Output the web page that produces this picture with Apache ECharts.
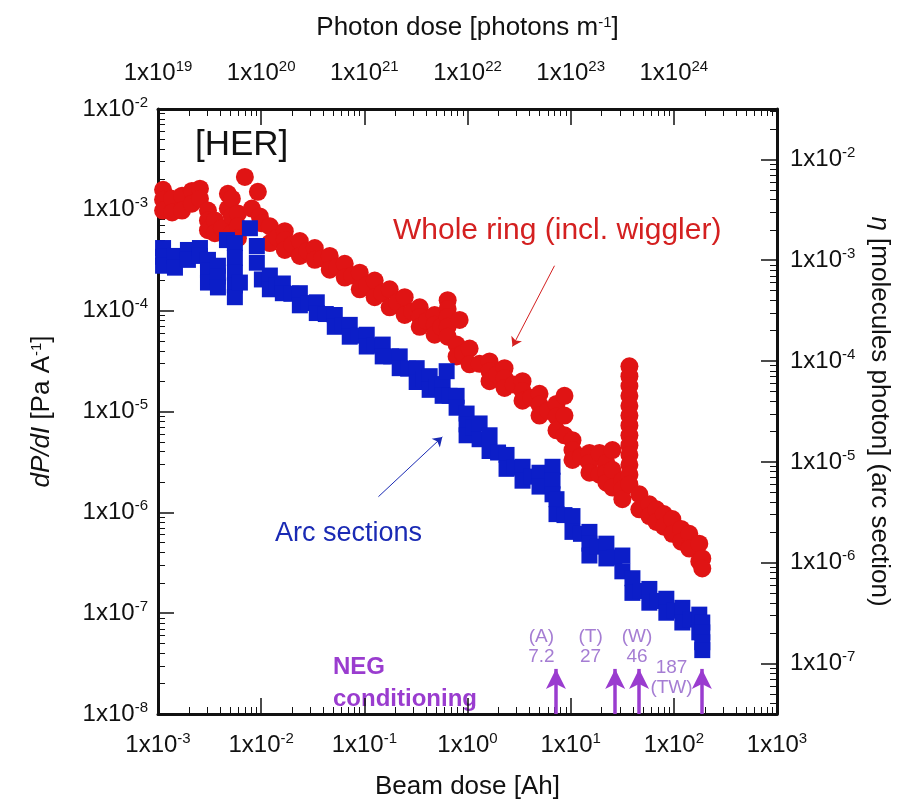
<!DOCTYPE html>
<html>
<head>
<meta charset="utf-8">
<script src="https://cdn.jsdelivr.net/npm/echarts@6/dist/echarts.min.js"></script>
<style>html,body{margin:0;padding:0;background:#fff;}#c{width:905px;height:805px;}</style>
</head>
<body>
<div id="c"></div>
<script>
// ---- Data ----
// Whole ring (incl. wiggler): beam dose [Ah] and dP/dI [Pa/A]
const wholeDose = [
  0.00112,0.00112,0.00112,0.00137,0.00137,0.00171,0.00171,0.00213,0.00213,0.00255,0.00255,
  0.00305,0.00305,0.00305,0.00356,0.00356,0.00417,0.00476,0.00476,0.00520,0.00520,0.00520,0.00595,0.00595,0.00595,
  0.00695,0.00929,0.00813,0.00971,0.01016,
  0.01214,0.01214,0.01435,0.01695,0.01695,0.01695,0.02005,0.02371,0.02371,0.0280,0.0331,0.0331,0.0391,0.0462,0.0462,0.0547,
  0.0646,0.0646,0.0763,0.0903,0.0903,0.1067,0.126,0.126,0.149,0.176,0.176,0.208,0.246,0.246,0.291,0.344,0.344,0.344,0.406,0.480,0.480,0.480,0.555,
  0.642,0.642,0.642,0.642,0.642,0.839,0.784,0.784,0.906,1.048,1.048,1.31,1.636,1.636,1.636,1.934,2.286,2.286,2.286,2.795,
  3.415,3.415,3.415,4.13,4.99,4.99,4.99,6.03,7.29,7.29,7.29,8.71,8.71,8.71,10.41,10.41,10.41,12.58,15.2,15.2,15.2,19.0,19.0,22.2,22.2,22.2,
  25.4,25.4,25.4,31.7,31.7,31.7,
  37.1,37.1,37.1,37.1,37.1,37.1,37.1,37.1,37.1,37.1,37.1,37.1,37.1,
  46.3,46.3,57.9,57.9,67.7,67.7,80,80,96.7,96.7,118,118,141.3,141.3,176.5,176.5,188.7,188.7
];
const wholeP = [
  1.58e-3,1.26e-3,9.84e-4,1.29e-3,9.41e-4,1.38e-3,9.84e-4,1.54e-3,1.15e-3,1.62e-3,1.29e-3,
  9.84e-4,7.86e-4,6.28e-4,7.86e-4,5.87e-4,6.57e-4,1.44e-3,1.03e-3,1.29e-3,8.60e-4,5.87e-4,9.20e-4,6.87e-4,5.24e-4,
  2.12e-3,1.51e-3,1.03e-3,8.60e-4,7.35e-4,
  6.87e-4,4.68e-4,5.30e-4,6.14e-4,5.01e-4,4.00e-4,4.53e-4,4.90e-4,3.49e-4,3.91e-4,4.18e-4,3.19e-4,3.30e-4,3.49e-4,2.55e-4,2.73e-4,
  2.92e-4,2.13e-4,2.23e-4,2.38e-4,1.63e-4,1.80e-4,1.99e-4,1.36e-4,1.49e-4,1.63e-4,1.08e-4,1.21e-4,1.36e-4,9.06e-5,9.8e-5,1.08e-4,8.66e-5,6.92e-5,7.91e-5,9.06e-5,7.23e-5,5.77e-5,6.92e-5,
  1.27e-4,1.04e-4,8.66e-5,6.92e-5,5.52e-5,8.09e-5,4.61e-5,3.52e-5,3.77e-5,4.21e-5,2.94e-5,2.97e-5,3.14e-5,2.51e-5,2.00e-5,2.32e-5,2.69e-5,2.14e-5,1.71e-5,1.85e-5,
  2.00e-5,1.60e-5,1.28e-5,1.37e-5,1.50e-5,1.17e-5,9.12e-6,1.02e-5,1.19e-5,8.90e-6,6.51e-6,1.43e-5,9.12e-6,5.81e-6,5.19e-6,4.15e-6,3.31e-6,3.58e-6,3.88e-6,3.09e-6,2.47e-6,3.88e-6,2.36e-6,3.09e-6,2.47e-6,1.97e-6,
  4.15e-6,2.64e-6,1.76e-6,2.06e-6,1.69e-6,1.35e-6,
  2.81e-5,2.24e-5,1.79e-5,1.43e-5,1.14e-5,9.12e-6,7.28e-6,5.81e-6,4.64e-6,3.71e-6,2.96e-6,2.36e-6,1.89e-6,
  1.51e-6,1.07e-6,1.20e-6,9.18e-7,1.07e-6,8.02e-7,9.6e-7,7.2e-7,8.58e-7,6.12e-7,6.85e-7,5.11e-7,6.12e-7,4.37e-7,4.89e-7,3.26e-7,3.49e-7,2.78e-7
];
// Arc sections: beam dose [Ah] and dP/dI [Pa/A]
const arcDose = [
  0.00112,0.00112,0.00112,0.00146,0.00146,0.00195,0.00195,0.00255,0.00255,
  0.00305,0.00305,0.00305,0.00381,0.00381,0.00381,
  0.00466,0.00556,0.00556,0.00556,0.00556,0.00556,0.00622,0.00778,0.00908,0.00908,0.01016,
  0.01214,0.01214,0.01403,0.01622,0.01622,0.01961,0.02371,0.02371,0.02864,0.0346,0.0346,0.0423,0.0517,0.0517,0.0611,0.0722,0.0722,0.0873,
  0.1055,0.1055,0.126,0.1507,0.1507,0.182,0.2202,0.2202,0.266,0.3216,0.3216,0.372,0.4297,0.4297,0.497,0.574,0.574,0.628,0.671,
  0.784,0.784,0.980,0.980,0.980,1.133,1.31,1.31,1.636,1.636,1.978,2.39,2.39,2.858,3.415,3.415,4.13,4.99,4.99,6.67,6.67,6.67,
  7.29,7.29,8.71,10.41,10.41,12.58,15.2,15.2,15.2,18.38,22.2,22.2,26.5,31.7,31.7,39.7,39.7,47.9,57.9,57.9,70.0,84.6,84.6,101,
  120.9,120.9,146,176.5,176.5,188.7,188.7,188.7,188.7
];
const arcP = [
  4.18e-4,3.42e-4,2.79e-4,3.49e-4,2.67e-4,4.00e-4,3.19e-4,4.18e-4,3.49e-4,
  3.19e-4,2.49e-4,1.90e-4,2.79e-4,2.18e-4,1.70e-4,
  5.01e-4,4.68e-4,3.34e-4,2.38e-4,1.78e-4,1.36e-4,1.90e-4,6.57e-4,4.38e-4,2.99e-4,2.04e-4,
  2.23e-4,1.63e-4,1.78e-4,1.86e-4,1.49e-4,1.47e-4,1.49e-4,1.13e-4,1.19e-4,1.21e-4,9.47e-5,9.26e-5,9.06e-5,6.92e-5,7.07e-5,7.23e-5,5.52e-5,5.65e-5,
  5.77e-5,4.41e-5,4.51e-5,4.61e-5,3.52e-5,3.52e-5,3.52e-5,2.69e-5,2.66e-5,2.69e-5,1.96e-5,2.10e-5,2.24e-5,1.64e-5,1.77e-5,1.87e-5,1.43e-5,2.51e-5,1.43e-5,
  1.43e-5,1.09e-5,9.54e-6,7.45e-6,5.81e-6,6.97e-6,7.61e-6,5.31e-6,5.81e-6,4.06e-6,3.92e-6,3.71e-6,2.70e-6,2.77e-6,2.83e-6,2.06e-6,2.26e-6,2.47e-6,1.80e-6,2.83e-6,2.06e-6,1.51e-6,
  1.35e-6,9.60e-7,9.39e-7,9.18e-7,6.40e-7,6.12e-7,6.40e-7,4.89e-7,3.73e-7,4.57e-7,4.89e-7,3.49e-7,3.57e-7,3.73e-7,2.60e-7,2.22e-7,1.59e-7,1.66e-7,1.74e-7,1.27e-7,1.32e-7,1.39e-7,1.01e-7,1.06e-7,
  1.13e-7,8.08e-8,8.64e-8,9.67e-8,6.45e-8,8.08e-8,6.45e-8,5.15e-8,4.30e-8
];
// NEG conditioning marks (beam dose, Ah)
const negDose = [7.2, 27, 46, 187];
const negLabels = ['(A)\n7.2', '(T)\n27', '(W)\n46', '187\n(TW)'];
const negLabelDose = [5.2, 15.6, 44, 95];
const negLabelP = [4.6e-8, 4.6e-8, 4.6e-8, 2.3e-8];
const negArrowBase = 1e-8, negArrowTop = 2.8e-8;
// annotation arrows (data coordinates)
const wholeArrow = [[6.97, 2.79e-4], [2.73, 4.41e-5]];
const arcArrow = [[0.137, 1.43e-6], [0.57, 5.6e-6]];
// axis ranges
const beamRange = [1e-3, 1e3];
const photonRange = [1e19, 1e25];
const pRange = [1e-8, 1e-2];
const etaRange = [Math.pow(10, -7.5), Math.pow(10, -1.5)];

// ---- Chart ----
const FONT = '"Liberation Sans", Arial, sans-serif';
const chart = echarts.init(document.getElementById('c'), null, {renderer: 'canvas'});
function powLabel(v) {
  const e = Math.log10(v), r = Math.round(e);
  if (Math.abs(e - r) > 1e-6) return '';
  return '{b|1x10}{s|' + r + '}';
}
const richTick = {
  b: {fontSize: 24, fontFamily: FONT, color: '#111', lineHeight: 28},
  s: {fontSize: 15, fontFamily: FONT, color: '#111', lineHeight: 12, verticalAlign: 'top'}
};
function axisBase() {
  return {
    type: 'log', logBase: 10,
    axisLine: {show: true, onZero: false, lineStyle: {color: '#111', width: 3}},
    axisTick: {show: true, inside: true, length: 16, lineStyle: {color: '#111', width: 1.5}},
    minorTick: {show: true, splitNumber: 9, length: 7, lineStyle: {color: '#111', width: 1}},
    splitLine: {show: false}, minorSplitLine: {show: false},
    axisLabel: {formatter: powLabel, rich: richTick, margin: 10, showMinLabel: true, showMaxLabel: true, hideOverlap: false},
    nameLocation: 'middle',
    nameTextStyle: {fontSize: 26, fontFamily: FONT, color: '#111',
      rich: {s: {fontSize: 15, fontFamily: FONT, color: '#111', lineHeight: 14, verticalAlign: 'top'},
             i: {fontSize: 26, fontFamily: FONT, color: '#111', fontStyle: 'italic'}}}
  };
}
const xBottom = Object.assign(axisBase(), {position: 'bottom', min: beamRange[0], max: beamRange[1],
  name: 'Beam dose [Ah]', nameGap: 60});
xBottom.axisLabel = Object.assign({}, xBottom.axisLabel, {margin: 17});
const xTop = Object.assign(axisBase(), {position: 'top', min: photonRange[0], max: photonRange[1],
  name: 'Photon dose [photons m{s|-1}]', nameGap: 68});
xTop.axisLabel = Object.assign({}, xTop.axisLabel, {margin: 22, formatter: v => v >= photonRange[1] * 0.999 ? '' : powLabel(v)});
const yLeft = Object.assign(axisBase(), {position: 'left', min: pRange[0], max: pRange[1],
  name: '{i|dP/dI} [Pa A{s|-1}]', nameRotate: 90, nameGap: 103});
const yRight = Object.assign(axisBase(), {position: 'right', min: etaRange[0], max: etaRange[1],
  name: '{i|η} [molecules photon] (arc section)', nameRotate: -90, nameGap: 88});
yRight.axisLabel = Object.assign({}, yRight.axisLabel, {margin: 13});

const RED = '#e01414', BLUE = '#0c1ec8', PURPLE = '#9a3ccf', NEGLBL = '#8f5cc8';
function zip(a, b) { return a.map((v, i) => [v, b[i]]); }

chart.setOption({
  animation: false,
  backgroundColor: '#fff',
  grid: {left: 158, right: 128, top: 109, bottom: 82, containLabel: false},
  xAxis: [xBottom, xTop],
  yAxis: [yLeft, yRight],
  graphic: [
    {type: 'text', x: 195, y: 145, style: {text: '[HER]', font: '35px ' + FONT, fill: '#111', align: 'left', verticalAlign: 'middle'}},
    {type: 'text', x: 393, y: 231, style: {text: 'Whole ring (incl. wiggler)', font: '30px ' + FONT, fill: '#d42020', align: 'left', verticalAlign: 'middle'}},
    {type: 'text', x: 422, y: 534, style: {text: 'Arc sections', font: '27px ' + FONT, fill: '#1a2ab4', align: 'right', verticalAlign: 'middle'}},
    {type: 'text', x: 333, y: 667, style: {text: 'NEG', font: 'bold 24px ' + FONT, fill: PURPLE, align: 'left', verticalAlign: 'middle'}},
    {type: 'text', x: 333, y: 699, style: {text: 'conditioning', font: 'bold 24px ' + FONT, fill: PURPLE, align: 'left', verticalAlign: 'middle'}}
  ],
  series: [
    {
      name: 'Whole ring (incl. wiggler)', type: 'scatter', symbol: 'circle', symbolSize: 18,
      itemStyle: {color: RED, opacity: 1}, data: zip(wholeDose, wholeP), z: 2,
      markLine: {
        silent: true, symbol: ['none', 'arrow'], symbolSize: 9,
        lineStyle: {color: '#d42020', width: 1, type: 'solid'}, label: {show: false},
        data: [[{coord: wholeArrow[0]}, {coord: wholeArrow[1]}]]
      }
    },
    {
      name: 'Arc sections', type: 'scatter', symbol: 'rect', symbolSize: 16,
      itemStyle: {color: BLUE, opacity: 1}, data: zip(arcDose, arcP), z: 3,
      markLine: {
        silent: true, symbol: ['none', 'arrow'], symbolSize: 9,
        lineStyle: {color: '#1a2ab4', width: 1, type: 'solid'}, label: {show: false},
        data: [[{coord: arcArrow[0]}, {coord: arcArrow[1]}]]
      }
    },
    {
      name: 'NEG', type: 'scatter', symbolSize: 0, z: 4,
      data: negLabelDose.map((d, i) => ({value: [d, negLabelP[i]], label: {formatter: negLabels[i]}})),
      label: {show: true, position: 'inside', color: NEGLBL, fontSize: 19, fontFamily: FONT, lineHeight: 20, align: 'center'},
      markLine: {
        silent: true, symbol: ['none', 'arrow'], symbolSize: [15, 20],
        lineStyle: {color: PURPLE, width: 3.5, type: 'solid'}, label: {show: false},
        data: negDose.map(d => [{coord: [d, negArrowBase]}, {coord: [d, negArrowTop]}])
      }
    }
  ]
});
</script>
</body>
</html>
